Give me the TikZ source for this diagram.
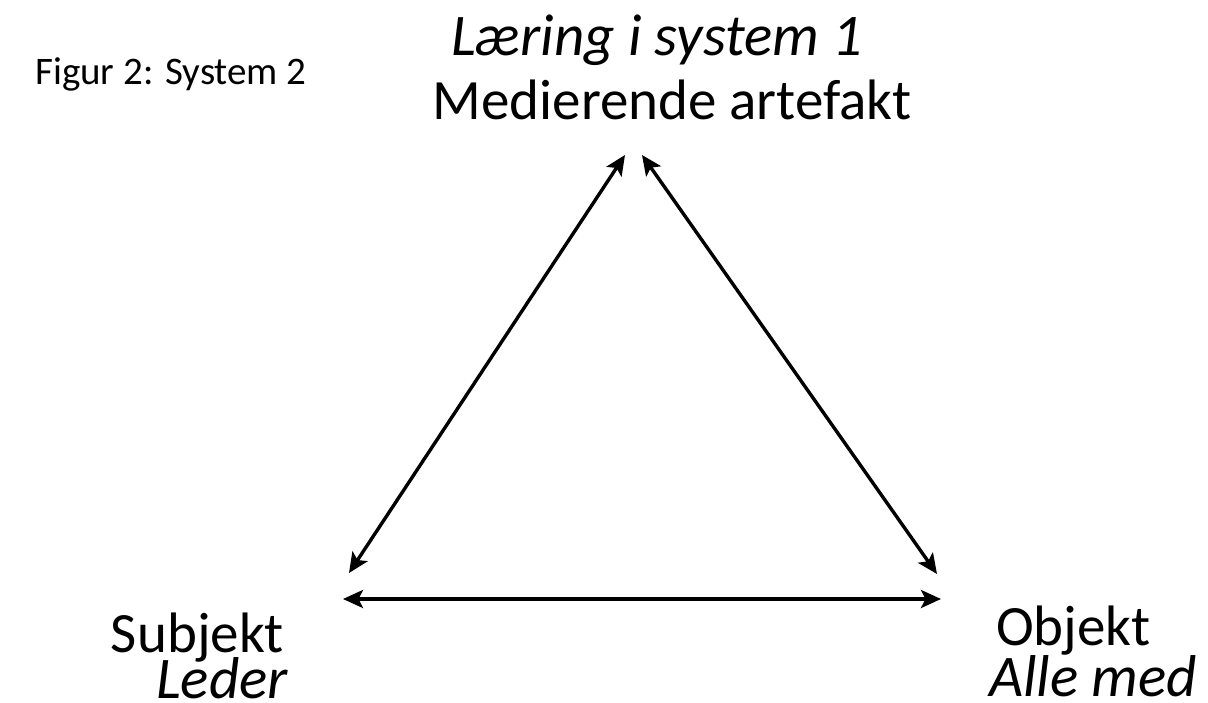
\documentclass[tikz,border=0pt]{standalone}
\usepackage{fontspec}
\setmainfont{Carlito}
\usetikzlibrary{arrows.meta}
\begin{document}
\begin{tikzpicture}[x=1pt,y=-1pt,
  conn/.style={line width=3.4pt,{Stealth[length=20pt,width=18pt,inset=4.5pt]}-{Stealth[length=20pt,width=18pt,inset=4.5pt]}},
  lbl/.style={inner sep=0pt,font=\fontsize{57}{62}\selectfont},
  ilbl/.style={inner sep=0pt,font=\fontsize{59}{64}\selectfont\itshape},
  figcap/.style={inner sep=0pt,font=\fontsize{39}{44}\selectfont}]
\useasboundingbox[fill=white] (0,0) rectangle (1208,703);
\node[figcap,anchor=base west] (fig) at (35,85) {Figur 2: System 2};
\node[ilbl,anchor=base] (top1) at (657,56) {Læring i system 1};
\node[lbl,anchor=base] (top2) at (672,120) {Medierende artefakt};
\node[lbl,anchor=base east] (sub1) at (284,652) {Subjekt};
\node[ilbl,anchor=base east] (sub2) at (288,698) {Leder};
\node[lbl,anchor=base west] (obj1) at (996,645) {Objekt};
\node[ilbl,anchor=base west] (obj2) at (989,696) {Alle med};
\coordinate (tl) at (625,155);
\coordinate (tr) at (642,155);
\coordinate (bl1) at (349,573);
\coordinate (br1) at (937,574);
\coordinate (bl2) at (343,599);
\coordinate (br2) at (941,599);
\draw[conn] (tl) -- (bl1);
\draw[conn] (tr) -- (br1);
\draw[conn] (bl2) -- (br2);
\end{tikzpicture}
\end{document}
